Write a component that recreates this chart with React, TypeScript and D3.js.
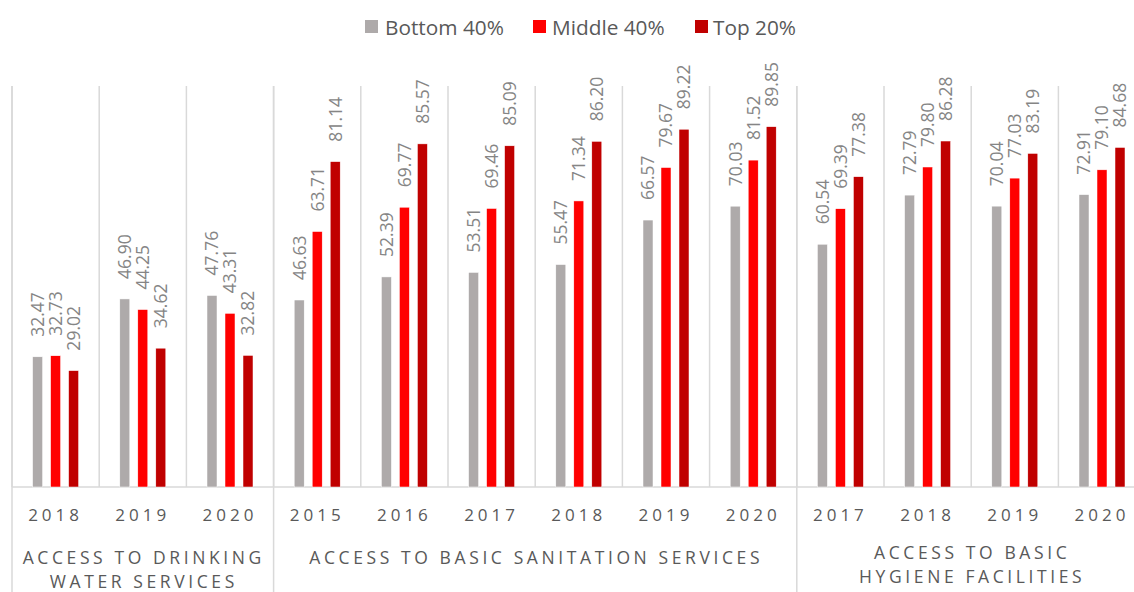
import React from "react";
import * as d3 from "d3";

const series = ["Bottom 40%", "Middle 40%", "Top 20%"];
const colors = ["#AEAAAA", "#FF0000", "#C00000"];

const categories = [
  "ACCESS TO DRINKING\nWATER SERVICES",
  "ACCESS TO BASIC SANITATION SERVICES",
  "ACCESS TO BASIC\nHYGIENE FACILITIES",
];

const years = [
  "2018", "2019", "2020",
  "2015", "2016", "2017", "2018", "2019", "2020",
  "2017", "2018", "2019", "2020",
];
const groupCategory = [0, 0, 0, 1, 1, 1, 1, 1, 1, 2, 2, 2, 2];

const bottom40 = [32.47, 46.9, 47.76, 46.63, 52.39, 53.51, 55.47, 66.57, 70.03, 60.54, 72.79, 70.04, 72.91];
const middle40 = [32.73, 44.25, 43.31, 63.71, 69.77, 69.46, 71.34, 79.67, 81.52, 69.39, 79.8, 77.03, 79.1];
const top20 = [29.02, 34.62, 32.82, 81.14, 85.57, 85.09, 86.2, 89.22, 89.85, 77.38, 86.28, 83.19, 84.68];

const values = [bottom40, middle40, top20];

const W = 1134;
const H = 592;
const left = 12;
const step = 87.2;
const top = 86;
const baseY = 487;
const FONT = "'Open Sans', sans-serif";

export default function App() {
  const idx = years.map((_, i) => i);
  const x0 = d3.scaleBand<number>().domain(idx).range([left, left + step * years.length]).padding(0);
  const x1 = d3
    .scaleBand<number>()
    .domain([0, 1, 2])
    .range([-27, 27])
    .paddingInner(8 / 18)
    .paddingOuter(4 / 18);
  const y = d3.scaleLinear().domain([0, 100]).range([baseY, top]);

  const catSpans = categories.map((_, c) => {
    const gs = idx.filter((i) => groupCategory[i] === c);
    const a = x0(gs[0])!;
    const b = x0(gs[gs.length - 1])! + x0.bandwidth();
    return [a, b];
  });
  const catLineY = [[564, 588], [564], [559, 583]];

  const legendItems = [
    { sq: 365, tx: 385 },
    { sq: 533, tx: 552 },
    { sq: 695, tx: 713 },
  ];

  return (
    <svg width={W} height={H} style={{ position: "absolute", left: 0, top: 0, background: "#fff" }}>
      {idx.map((i) => (
        <line key={"g" + i} x1={x0(i)} x2={x0(i)} y1={top} y2={baseY} stroke="#d9d9d9" strokeWidth={1.5} />
      ))}
      <line x1={left + step * years.length} x2={left + step * years.length} y1={top} y2={H} stroke="#d9d9d9" strokeWidth={1.5} />
      {catSpans.map(([a], c) => (
        <line key={"m" + c} x1={a} x2={a} y1={top} y2={H} stroke="#d9d9d9" strokeWidth={1.5} />
      ))}
      <line x1={left} x2={W} y1={baseY} y2={baseY} stroke="#d9d9d9" strokeWidth={1.5} />

      {idx.map((i) =>
        values.map((vals, s) => {
          const bx = x0(i)! + x0.bandwidth() / 2 + x1(s)!;
          const v = vals[i];
          return (
            <g key={"b" + i + "_" + s}>
              <rect x={bx} y={y(v)} width={x1.bandwidth()} height={baseY - y(v)} fill={colors[s]} stroke="#fff" strokeWidth={0.5} />
              <text
                transform={`translate(${bx + x1.bandwidth() / 2},${y(v) - 20}) rotate(-90)`}
                dy="0.36em"
                fontFamily={FONT}
                fontSize={17.5}
                fill="#858585"
              >
                {v.toFixed(2)}
              </text>
            </g>
          );
        })
      )}

      {idx.map((i) => (
        <text
          key={"y" + i}
          x={x0(i)! + x0.bandwidth() / 2}
          y={521}
          textAnchor="middle"
          fontFamily={FONT}
          fontSize={17}
          letterSpacing={4}
          fill="#595959"
        >
          {years[i]}
        </text>
      ))}

      {categories.map((c, ci) => {
        const [a, b] = catSpans[ci];
        const cx = (Math.min(b, x0.range()[1]) + a) / 2;
        return c.split("\n").map((line, li) => (
          <text
            key={"c" + ci + "_" + li}
            x={cx + 1}
            y={catLineY[ci][li]}
            textAnchor="middle"
            fontFamily={FONT}
            fontSize={17.5}
            letterSpacing={3.6}
            fill="#595959"
          >
            {line}
          </text>
        ));
      })}

      {series.map((s, i) => (
        <g key={"l" + i}>
          <rect x={legendItems[i].sq} y={20} width={13} height={13} fill={colors[i]} />
          <text x={legendItems[i].tx} y={35} fontFamily={FONT} fontSize={20.8} fill="#595959">
            {s}
          </text>
        </g>
      ))}
    </svg>
  );
}
